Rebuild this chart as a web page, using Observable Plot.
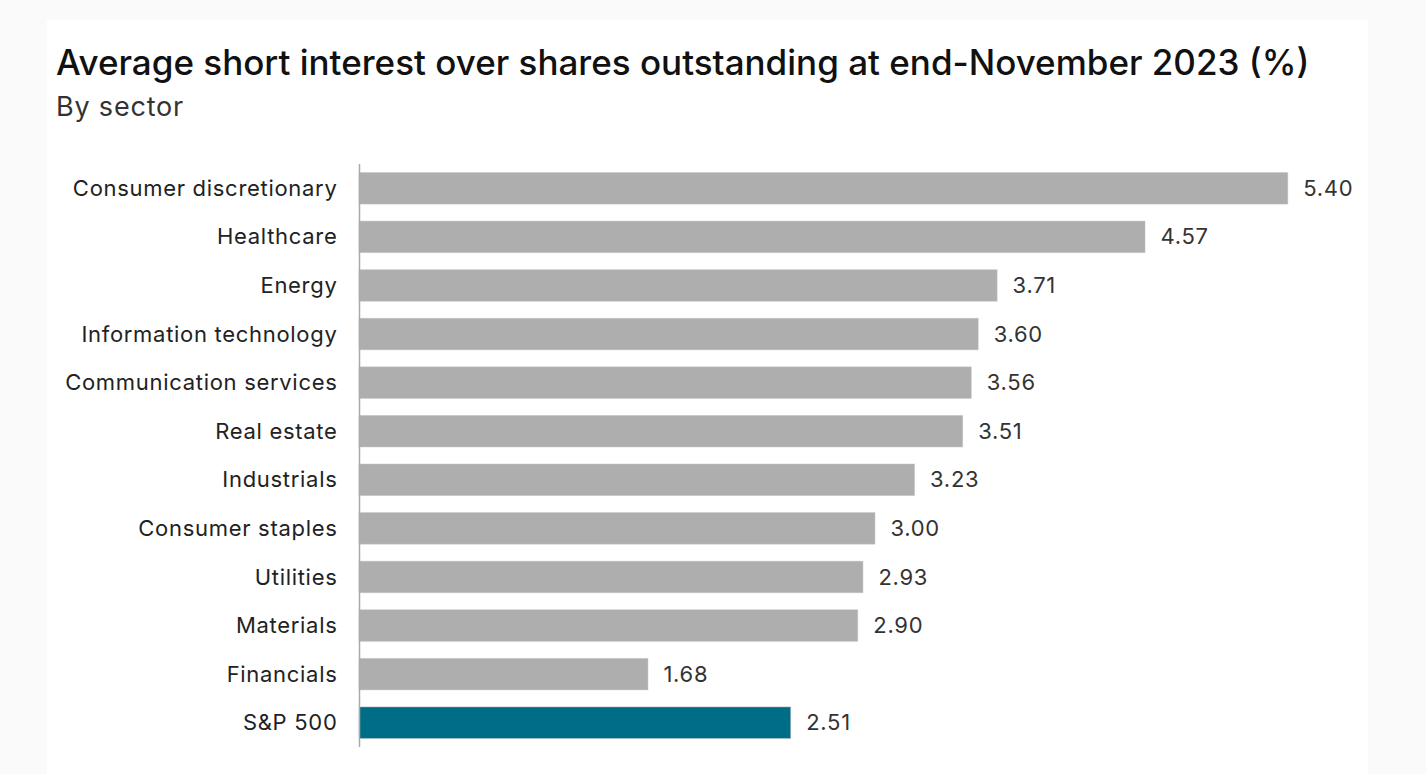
<!DOCTYPE html>
<html>
<head>
<meta charset="utf-8">
<script src="https://cdn.jsdelivr.net/npm/d3@7"></script>
<script src="https://cdn.jsdelivr.net/npm/@observablehq/plot@0.6"></script>
<style>
  html, body { margin: 0; padding: 0; background: #fafafa; width: 1426px; height: 774px; overflow: hidden; }
  #panel { position: absolute; left: 47px; top: 20px; width: 1321px; height: 754px; background: #fff; }
  #title { position: absolute; left: 56px; top: 40px; font-family: Inter, "Noto Sans", sans-serif; font-weight: 500; font-size: 35px; line-height: 44px; color: #111; white-space: nowrap; }
  #subtitle { position: absolute; left: 56px; top: 90px; font-family: Inter, "Noto Sans", sans-serif; font-weight: 400; font-size: 27px; line-height: 34px; color: #333; white-space: nowrap; letter-spacing: 0.8px; }
  #chart { position: absolute; left: 0; top: 150px; }
  #chart svg text { letter-spacing: 0.7px; }
</style>
</head>
<body>
<div id="panel"></div>
<div id="title">Average short interest over shares outstanding at end-November 2023 (%)</div>
<div id="subtitle">By sector</div>
<div id="chart"></div>
<script>
const sectors = ["Consumer discretionary", "Healthcare", "Energy", "Information technology", "Communication services", "Real estate", "Industrials", "Consumer staples", "Utilities", "Materials", "Financials", "S&P 500"];
const values = [5.40, 4.57, 3.71, 3.60, 3.56, 3.51, 3.23, 3.00, 2.93, 2.90, 1.68, 2.51];
const groups = ["Sector", "Sector", "Sector", "Sector", "Sector", "Sector", "Sector", "Sector", "Sector", "Sector", "Sector", "Index"];
const groupColors = ["#aeaeae", "#006d87"];

const data = sectors.map((s, i) => ({sector: s, value: values[i], group: groups[i]}));

const chart = Plot.plot({
  width: 1426,
  height: 610,
  marginLeft: 359,
  marginRight: 35,
  marginTop: 14,
  marginBottom: 13,
  style: {fontFamily: "Inter, 'Noto Sans', sans-serif", fontSize: "22px", color: "#222", background: "transparent"},
  x: {domain: [0, 6], axis: null},
  y: {domain: sectors, paddingInner: 0.35, paddingOuter: 0.175, round: false, label: null, tickSize: 0, tickPadding: 22},
  color: {domain: ["Sector", "Index"], range: groupColors},
  marks: [
    Plot.barX(data, {x: "value", y: "sector", fill: "group", stroke: "#c4c4c4", strokeWidth: 0.8, strokeOpacity: 0.6}),
    Plot.ruleX([0], {stroke: "#aaa", strokeWidth: 1.5}),
    Plot.text(data, {x: "value", y: "sector", text: d => d.value.toFixed(2), dx: 15, textAnchor: "start", fill: "#333", fontSize: 22})
  ]
});
document.getElementById("chart").appendChild(chart);
</script>
</body>
</html>
